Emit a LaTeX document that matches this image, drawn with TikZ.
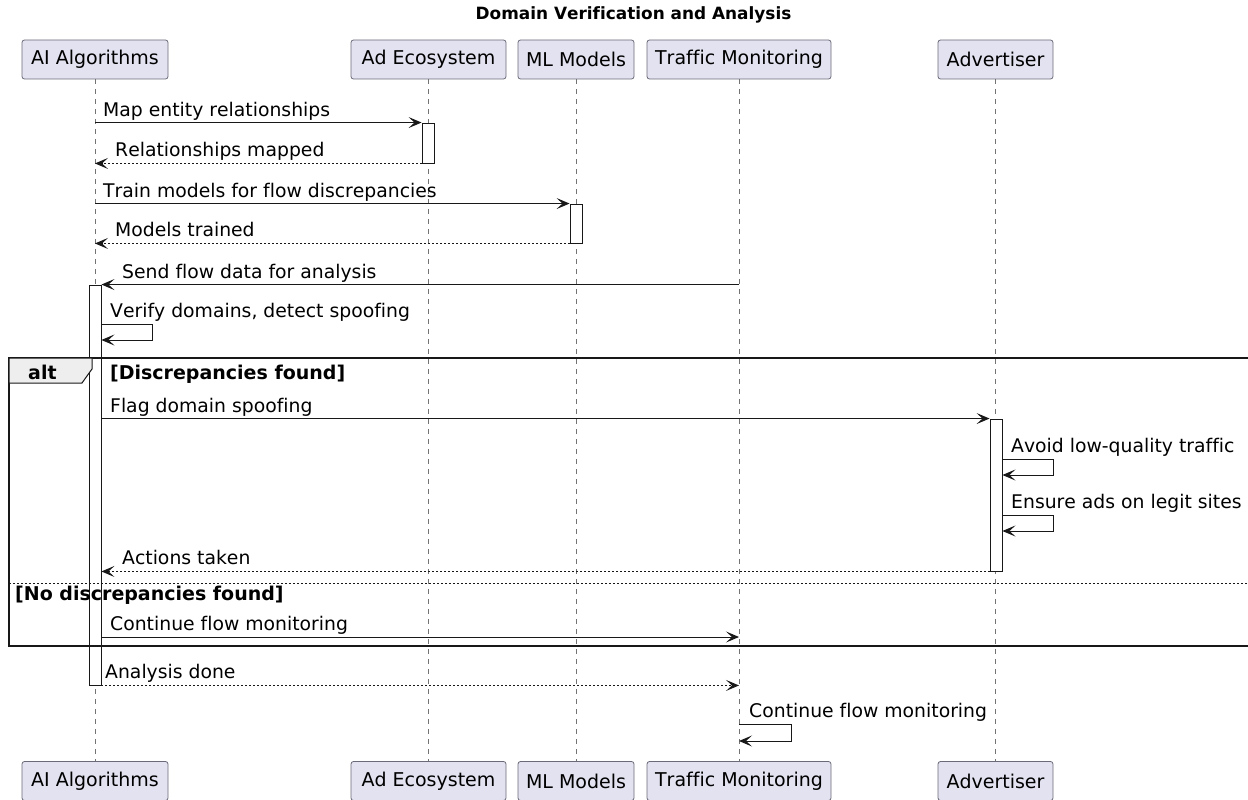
\documentclass[tikz,border=0pt]{standalone}
\usepackage{fontspec}
\setmainfont{DejaVu Sans}[Ligatures=NoCommon,Kerning=Off]
\usetikzlibrary{arrows.meta}

\definecolor{partfill}{HTML}{E2E2F0}
\definecolor{partline}{HTML}{6A6A78}
\definecolor{altfill}{HTML}{EEEEEE}
\definecolor{lineclr}{HTML}{181818}

\begin{document}
\begin{tikzpicture}[x=1pt,y=-1pt,
    part/.style={draw=partline,fill=partfill,rounded corners=2.5pt,line width=0.8pt,inner sep=0pt,minimum height=39pt,font=\fontsize{19}{22}\selectfont},
    life/.style={draw=gray!90!black,dash pattern=on 5pt off 5pt,line width=0.8pt},
    actbar/.style={draw=lineclr,fill=white,line width=0.9pt,minimum width=12pt,inner sep=0pt},
    msg/.style={draw=lineclr,line width=1pt,-{Stealth[length=13pt,width=11pt,inset=6pt]}},
    ret/.style={msg,dash pattern=on 2pt off 2pt},
    lbl/.style={anchor=base west,inner sep=0pt,font=\fontsize{18.8}{22}\selectfont},
    guard/.style={anchor=base west,inner sep=0pt,font=\bfseries\fontsize{19}{22}\selectfont},
    frame/.style={draw=lineclr,line width=1.5pt}]

    \useasboundingbox (0,0) rectangle (1248,800);

    % Title
    \node[font=\bfseries\fontsize{16.9}{20}\selectfont] (title) at (633.5,15) {Domain Verification and Analysis};

    % Participants, top row
    \node[part,minimum width=146pt] (ait) at (95,59.5) {AI Algorithms};
    \node[part,minimum width=155pt] (ecot) at (428.5,59.5) {Ad Ecosystem};
    \node[part,minimum width=116pt] (mlt) at (576,59.5) {ML Models};
    \node[part,minimum width=184pt] (trt) at (739,59.5) {Traffic Monitoring};
    \node[part,minimum width=115pt] (advt) at (995.5,59.5) {Advertiser};

    % Participants, bottom row
    \node[part,minimum width=146pt] (aib) at (95,781) {AI Algorithms};
    \node[part,minimum width=155pt] (ecob) at (428.5,781) {Ad Ecosystem};
    \node[part,minimum width=116pt] (mlb) at (576,781) {ML Models};
    \node[part,minimum width=184pt] (trb) at (739,781) {Traffic Monitoring};
    \node[part,minimum width=115pt] (advb) at (995.5,781) {Advertiser};

    % Lifelines
    \draw[life] (ait) -- (aib);
    \draw[life] (ecot) -- (ecob);
    \draw[life] (mlt) -- (mlb);
    \draw[life] (trt) -- (trb);
    \draw[life] (advt) -- (advb);

    % Activation bars
    \node[actbar,minimum height=40pt] (ecoact) at (428,143) {};
    \node[actbar,minimum height=39pt] (mlact) at (576,223.5) {};
    \node[actbar,minimum height=400pt] (aiact) at (95,485) {};
    \node[actbar,minimum height=152pt] (advact) at (996,495) {};

    % Alt frame
    \draw[frame] (9,358) rectangle (1254,646);
    \draw[frame,fill=altfill,line width=1pt] (9,358) -- (92,358) -- (92,369) -- (82,383) -- (9,383) -- cycle;
    \draw[draw=lineclr,line width=0.8pt,dash pattern=on 2pt off 2pt] (9,583) -- (1254,583);
    \node[guard] (alt) at (28,379) {alt};
    \node[guard] (g1) at (110,379) {[Discrepancies found]};
    \node[guard] (g2) at (15,600) {[No discrepancies found]};

    % Messages
    \draw[msg] (ait |- ecoact.north) -- (ecoact.north west);
    \node[lbl] (m1) at (103,116.5) {Map entity relationships};
    \draw[ret] (ecoact.south west) -- (ait |- ecoact.south);
    \node[lbl] (m2) at (115,156.5) {Relationships mapped};
    \draw[msg] (ait |- mlact.north) -- (mlact.north west);
    \node[lbl] (m3) at (103,197.5) {Train models for flow discrepancies};
    \draw[ret] (mlact.south west) -- (ait |- mlact.south);
    \node[lbl] (m4) at (115,236.5) {Models trained};
    \draw[msg] (trt |- aiact.north) -- (aiact.north east);
    \node[lbl] (m5) at (122,278.5) {Send flow data for analysis};

    \coordinate (s1) at (aiact.east |- 0,324);
    \draw[msg] (s1) -- ++(51,0) -- ++(0,16) -- ++(-51,0);
    \node[lbl] (m6) at (110,317.5) {Verify domains, detect spoofing};

    \draw[msg] (aiact.east |- advact.north) -- (advact.north west);
    \node[lbl] (m7) at (110,412.5) {Flag domain spoofing};

    \coordinate (s2) at (advact.east |- 0,459);
    \draw[msg] (s2) -- ++(51,0) -- ++(0,16) -- ++(-51,0);
    \node[lbl] (m8) at (1011,452.5) {Avoid low-quality traffic};
    \coordinate (s3) at (advact.east |- 0,515);
    \draw[msg] (s3) -- ++(51,0) -- ++(0,16) -- ++(-51,0);
    \node[lbl] (m9) at (1011,508.5) {Ensure ads on legit sites};

    \draw[ret] (advact.south west) -- (aiact.east |- advact.south);
    \node[lbl] (m10) at (122,564.5) {Actions taken};

    \coordinate (c1) at (aiact.east |- 0,637);
    \draw[msg] (c1) -- (trt |- c1);
    \node[lbl] (m11) at (110,630.5) {Continue flow monitoring};

    \draw[ret] (aiact.south east) -- (trt |- aiact.south);
    \node[lbl] (m12) at (105,678.5) {Analysis done};

    \coordinate (s4) at (trt |- 0,724);
    \draw[msg] (s4) -- ++(52,0) -- ++(0,17) -- ++(-52,0);
    \node[lbl] (m13) at (749,717.5) {Continue flow monitoring};

\end{tikzpicture}
\end{document}
